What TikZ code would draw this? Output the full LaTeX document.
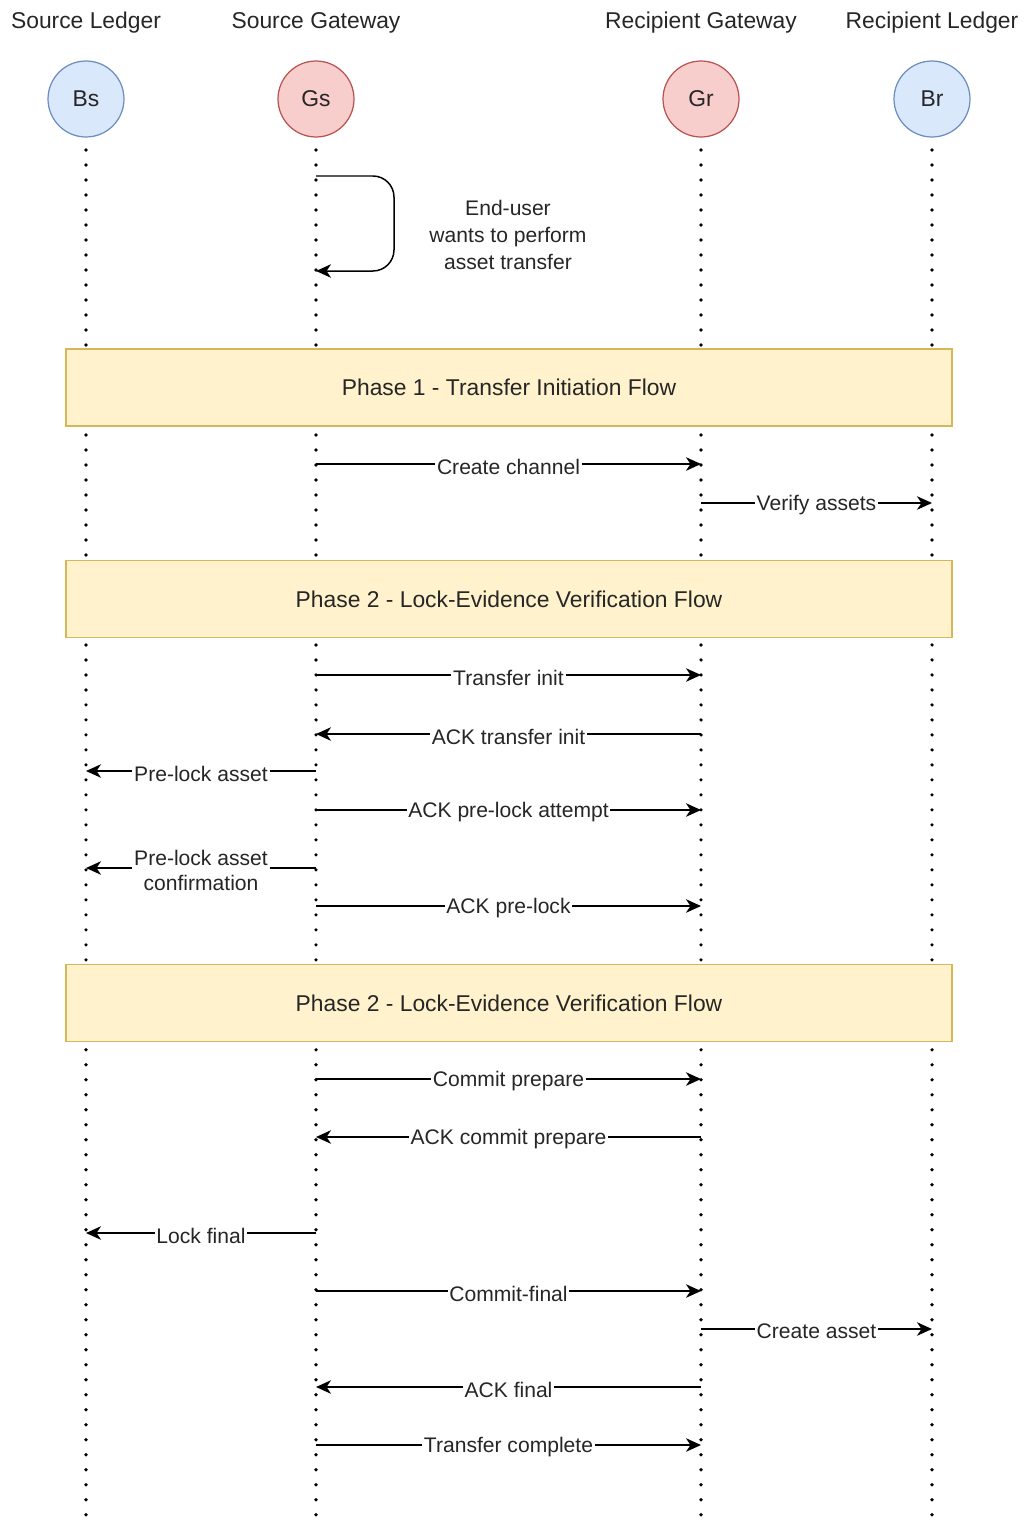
\documentclass[tikz,border=0pt]{standalone}
\usepackage{fontspec}
\setmainfont{Liberation Sans}
\usetikzlibrary{arrows.meta, positioning}
\definecolor{ledgerFill}{HTML}{DAE8FC}
\definecolor{ledgerDraw}{HTML}{6C8EBF}
\definecolor{gwFill}{HTML}{F8CECC}
\definecolor{gwDraw}{HTML}{B85450}
\definecolor{phaseFill}{HTML}{FFF2CC}
\definecolor{phaseDraw}{HTML}{D6B656}

\begin{document}
\begin{tikzpicture}[
    x=0.02cm, y=-0.02cm,
    every node/.style={font=\fontsize{13}{15.5}\selectfont, text=black!85},
    ledger/.style={circle, minimum size=1.52cm, inner sep=0pt, draw=ledgerDraw, fill=ledgerFill, line width=0.7pt},
    gateway/.style={circle, minimum size=1.52cm, inner sep=0pt, draw=gwDraw, fill=gwFill, line width=0.7pt},
    phase/.style={rectangle, minimum width=17.72cm, minimum height=1.54cm, draw=phaseDraw, fill=phaseFill, line width=1pt},
    lifeline/.style={line width=2.1pt, dash pattern=on 0pt off 0.3cm, line cap=round},
    msg/.style={-{Stealth[length=0.3cm, width=0.27cm, inset=0.09cm]}, line width=0.85pt},
    lbl/.style={fill=white, inner sep=1pt, yshift=-0.05cm, font=\fontsize{12}{14.2}\selectfont}
]
\useasboundingbox (0,0) rectangle (1026,1521);

% participants
\node (Bs) [ledger] at (86,99) {Bs};
\node (Gs) [gateway] at (316,99) {Gs};
\node (Gr) [gateway] at (701,99) {Gr};
\node (Br) [ledger] at (932,99) {Br};

\node (tBs) at (86,23) {Source Ledger};
\node (tGs) at (316,23) {Source Gateway};
\node (tGr) at (701,23) {Recipient Gateway};
\node (tBr) at (932,23) {Recipient Ledger};

% lifelines
\foreach \p in {Bs, Gs, Gr, Br}
    \draw [lifeline] (\p |- 0,150) -- (\p |- 0,1521);

% self message
\draw [msg, rounded corners=12] (Gs |- 0,176) -- (394,176) -- (394,271) -- (Gs |- 0,271);
\node (wish) [align=center, font=\fontsize{12}{15.3}\selectfont] at (508,235) {End-user\\wants to perform\\asset transfer};

% phases
\node (ph1) [phase] at (509,387.5) {Phase 1 - Transfer Initiation Flow};
\node (ph2) [phase] at (509,599) {Phase 2 - Lock-Evidence Verification Flow};
\node (ph3) [phase] at (509,1003) {Phase 2 - Lock-Evidence Verification Flow};

% phase 1
\draw [msg] (Gs |- 0,464) -- node[lbl] {Create channel} (Gr |- 0,464);
\draw [msg] (Gr |- 0,503) -- node[lbl] {Verify assets} (Br |- 0,503);

% phase 2
\draw [msg] (Gs |- 0,675) -- node[lbl] {Transfer init} (Gr |- 0,675);
\draw [msg] (Gr |- 0,734) -- node[lbl] {ACK transfer init} (Gs |- 0,734);
\draw [msg] (Gs |- 0,771) -- node[lbl] {Pre-lock asset} (Bs |- 0,771);
\draw [msg] (Gs |- 0,810) -- node[lbl] {ACK pre-lock attempt} (Gr |- 0,810);
\draw [msg] (Gs |- 0,868) -- node[lbl, align=center] {Pre-lock asset\\confirmation} (Bs |- 0,868);
\draw [msg] (Gs |- 0,906) -- node[lbl] {ACK pre-lock} (Gr |- 0,906);

% phase 3
\draw [msg] (Gs |- 0,1079) -- node[lbl] {Commit prepare} (Gr |- 0,1079);
\draw [msg] (Gr |- 0,1137) -- node[lbl] {ACK commit prepare} (Gs |- 0,1137);
\draw [msg] (Gs |- 0,1233) -- node[lbl] {Lock final} (Bs |- 0,1233);
\draw [msg] (Gs |- 0,1291) -- node[lbl] {Commit-final\ } (Gr |- 0,1291);
\draw [msg] (Gr |- 0,1329) -- node[lbl] {Create asset} (Br |- 0,1329);
\draw [msg] (Gr |- 0,1387) -- node[lbl] {ACK final} (Gs |- 0,1387);
\draw [msg] (Gs |- 0,1445) -- node[lbl] {Transfer complete} (Gr |- 0,1445);
\end{tikzpicture}
\end{document}
